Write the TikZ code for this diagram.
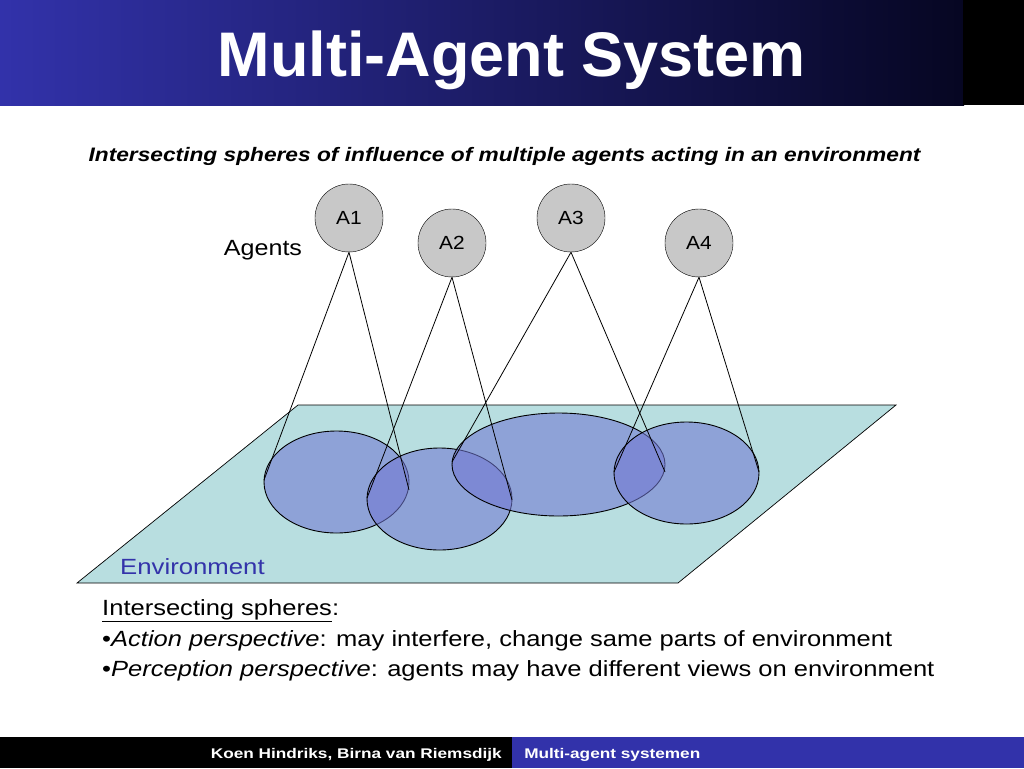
\documentclass[tikz,border=0pt]{standalone}
\usepackage{fontspec}
\setmainfont{Liberation Sans}
\usetikzlibrary{shapes.geometric}
\definecolor{hdrblue}{RGB}{50,50,170}
\definecolor{hdrdark}{RGB}{6,6,34}
\definecolor{envfill}{RGB}{184,222,224}
\definecolor{sphere}{RGB}{113,120,210}
\definecolor{agentgray}{RGB}{200,200,200}
\definecolor{envtext}{RGB}{51,51,170}
\tikzset{
  agent/.style={circle, draw=black, fill=agentgray, minimum size=68pt, inner sep=0pt},
  agentlbl/.style={font=\fontsize{19}{19}\selectfont, xscale=1.1, transform shape, inner sep=0pt},
  sph/.style={ellipse, draw=black, line width=0.9pt, fill=sphere, fill opacity=0.58, draw opacity=1, inner sep=0pt},
  cone/.style={draw=black, line width=0.8pt},
  body/.style={anchor=base west, font=\fontsize{22}{22}\selectfont, xscale=1.16, transform shape, inner sep=0pt},
  foot/.style={text=white, font=\bfseries\fontsize{14}{14}\selectfont, xscale=1.23, transform shape, inner sep=0pt},
}
\begin{document}
\begin{tikzpicture}[x=1pt,y=-1pt]
\useasboundingbox (0,0) rectangle (1024,768);
\fill[white] (0,0) rectangle (1024,768);
% header
\shade[left color=hdrblue, right color=hdrdark] (0,0) rectangle (964,105);
\fill[black] (963,0) rectangle (1024,105);
\node[text=white, font=\bfseries\fontsize{63}{63}\selectfont, anchor=base, inner sep=0pt] (title) at (512,77) {Multi-Agent System};
% subtitle
\node[font=\bfseries\itshape\fontsize{19.5}{20}\selectfont, anchor=base, xscale=1.165, transform shape, inner sep=0pt] (sub) at (504.5,161) {Intersecting spheres of influence of multiple agents acting in an environment};
% environment
\path[draw=black, line width=0.7pt, fill=envfill] (298,405) -- (896,405) -- (678,583) -- (77,583) -- cycle;
\node[text=envtext, font=\fontsize{22}{22}\selectfont, anchor=base west, xscale=1.17, transform shape, inner sep=0pt] (envlbl) at (120,574) {Environment};
% spheres
\node[sph, minimum width=145pt, minimum height=102pt] (E1) at (336.5,482) {};
\node[sph, minimum width=145pt, minimum height=102pt] (E2) at (439.5,499) {};
\node[sph, minimum width=213pt, minimum height=103pt] (E3) at (558.5,464.5) {};
\node[sph, minimum width=145pt, minimum height=102pt] (E4) at (686.5,473) {};
% agents
\node[agent] (A1) at (349,218) {};
\node[agent] (A2) at (452,243) {};
\node[agent] (A3) at (571,218) {};
\node[agent] (A4) at (699,243) {};
\node[agentlbl] (l1) at (A1.center) {A1};
\node[agentlbl] (l2) at (A2.center) {A2};
\node[agentlbl] (l3) at (A3.center) {A3};
\node[agentlbl] (l4) at (A4.center) {A4};
\node[font=\fontsize{22}{22}\selectfont, anchor=base, xscale=1.14, transform shape, inner sep=0pt] (agents) at (263,255) {Agents};
% cones
\coordinate (e1l) at (264,480); \coordinate (e1r) at (409,490);
\coordinate (e2l) at (367,498); \coordinate (e2r) at (512,500);
\coordinate (e3l) at (452,462); \coordinate (e3r) at (665,472);
\coordinate (e4l) at (614,472); \coordinate (e4r) at (759,472);
\draw[cone] (e1l) -- (A1.south) -- (e1r);
\draw[cone] (e2l) -- (A2.south) -- (e2r);
\draw[cone] (e3l) -- (A3.south) -- (e3r);
\draw[cone] (e4l) -- (A4.south) -- (e4r);
% bottom text
\node[body] (t1) at (102,615) {\underline{Intersecting spheres}:};
\node[body] (t2) at (102,646) {•\textit{Action perspective}: may interfere, change same parts of environment};
\node[body] (t3) at (102,676) {•\textit{Perception perspective}: agents may have different views on environment};
% footer
\fill[black] (0,737) rectangle (512,768);
\fill[hdrblue] (512,737) rectangle (1024,768);
\node[foot, anchor=base east] (f1) at (502,758) {Koen Hindriks, Birna van Riemsdijk};
\node[foot, anchor=base west] (f2) at (524,758) {Multi-agent systemen};
\end{tikzpicture}
\end{document}
